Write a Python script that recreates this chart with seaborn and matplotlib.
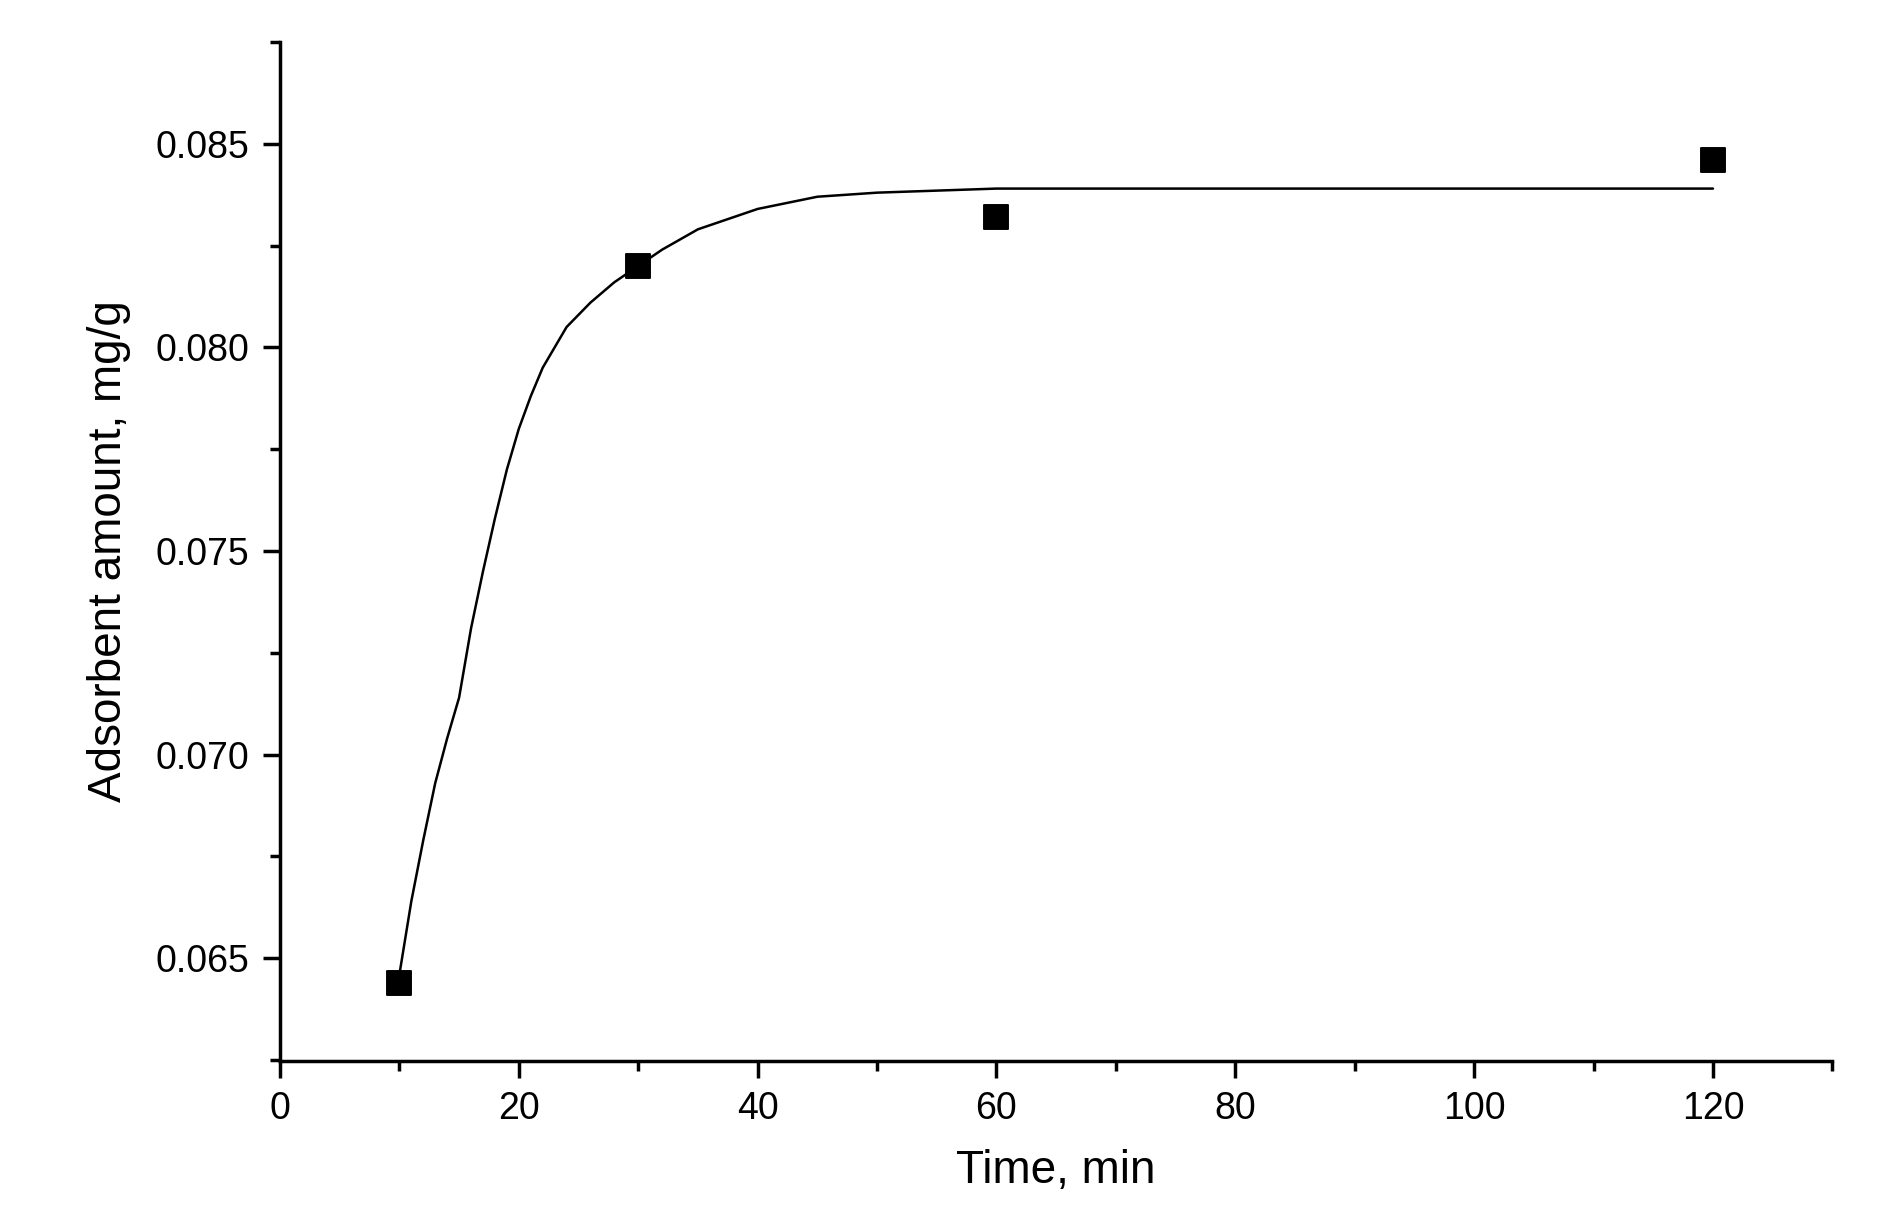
import matplotlib
matplotlib.use("Agg")
import matplotlib.pyplot as plt
import seaborn as sns
from matplotlib.ticker import MultipleLocator

time_min = [10, 30, 60, 120]
amount = [0.0644, 0.0820, 0.0832, 0.0846]
fit_t = [10, 11, 12, 13, 14, 15, 16, 17, 18, 19, 20, 21, 22, 23, 24, 25, 26, 28, 30, 32, 35, 38,
         40, 45, 50, 60, 80, 100, 120]
fit_q = [0.0646, 0.0664, 0.0679, 0.0693, 0.0704, 0.0714, 0.0731, 0.0745, 0.0758, 0.0770,
         0.0780, 0.0788, 0.0795, 0.0800, 0.0805, 0.0808, 0.0811, 0.0816, 0.0820, 0.0824,
         0.0829, 0.0832, 0.0834, 0.0837, 0.0838, 0.0839, 0.0839, 0.0839, 0.0839]

sns.set_style("ticks")
plt.rcParams['font.family'] = ['Liberation Sans', 'DejaVu Sans']
plt.rcParams['text.color'] = 'black'
plt.rcParams['axes.labelcolor'] = 'black'
plt.rcParams['xtick.color'] = 'black'
plt.rcParams['ytick.color'] = 'black'
fig = plt.figure(figsize=(18.84, 12.31), dpi=100)
ax = fig.add_axes([0.1486, 0.1385, 0.8240, 0.8274])
sns.lineplot(x=fit_t, y=fit_q, ax=ax, color="black", linewidth=1.8)
sns.scatterplot(x=time_min, y=amount, ax=ax, marker="s", s=300, color="black", edgecolor="black", zorder=3)
ax.set_xlim(0, 130)
ax.set_ylim(0.06249, 0.0875)
ax.xaxis.set_major_locator(MultipleLocator(20))
ax.xaxis.set_minor_locator(MultipleLocator(10))
ax.yaxis.set_major_locator(MultipleLocator(0.005))
ax.yaxis.set_minor_locator(MultipleLocator(0.0025))
ax.yaxis.set_major_formatter(matplotlib.ticker.FormatStrFormatter('%.3f'))
for s in ['top', 'right']:
    ax.spines[s].set_visible(False)
for s in ['left', 'bottom']:
    ax.spines[s].set_linewidth(2.5)
    ax.spines[s].set_color('black')
ax.tick_params(which='major', direction='out', length=12, width=2.5, labelsize=27, pad=10)
ax.tick_params(which='minor', direction='out', length=7, width=2.5)
ax.set_xlabel("Time, min", fontsize=33, labelpad=16)
ax.set_ylabel("Adsorbent amount, mg/g", fontsize=33, labelpad=18)
fig.savefig("out.png", dpi=100)
